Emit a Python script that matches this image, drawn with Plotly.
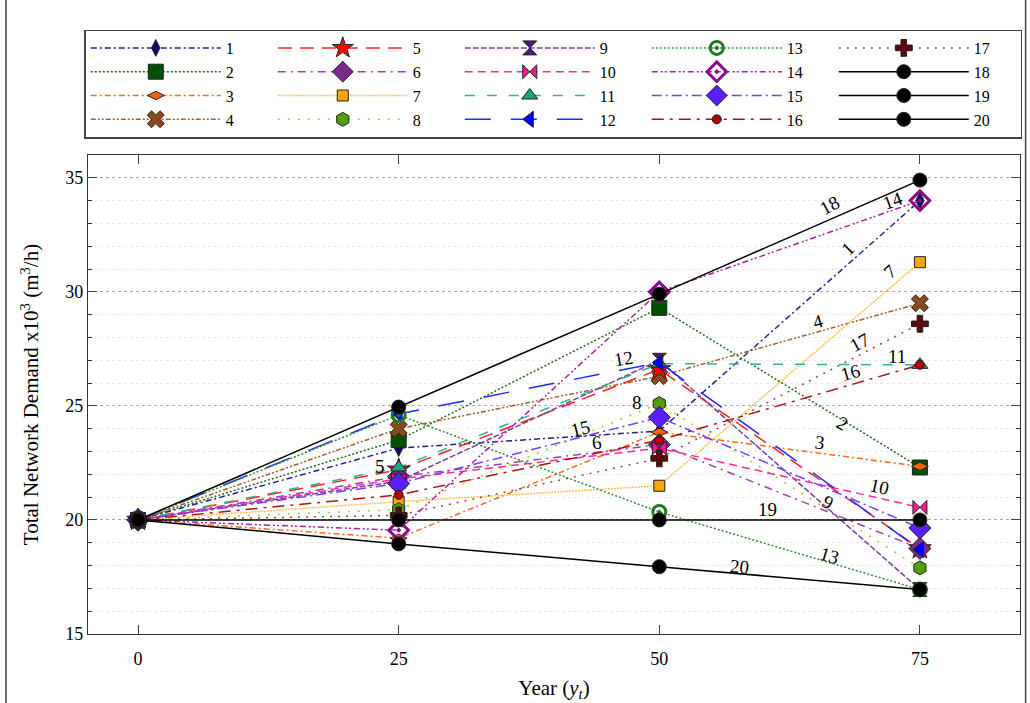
import plotly.graph_objects as go

# ---- data ----
years = [0, 25, 50, 75]
s1 = [20.0, 23.15, 23.9, 34.0]
s2 = [20.0, 23.5, 29.3, 22.3]
s3 = [20.0, 19.2, 23.85, 22.35]
s4 = [20.0, 24.0, 26.3, 29.5]
s5 = [20.0, 22.2, 26.6, 18.75]
s6 = [20.0, 21.9, 23.3, 18.75]
s7 = [20.0, 20.8, 21.5, 31.3]
s8 = [20.0, 20.45, 25.1, 17.9]
s9 = [20.0, 21.7, 27.0, 16.95]
s10 = [20.0, 21.8, 23.15, 20.55]
s11 = [20.0, 22.3, 26.85, 26.8]
s12 = [20.0, 24.65, 26.9, 18.7]
s13 = [20.0, 24.6, 20.35, 16.95]
s14 = [20.0, 19.55, 30.0, 34.0]
s15 = [20.0, 21.6, 24.5, 19.65]
s16 = [20.0, 21.1, 23.5, 26.8]
s17 = [20.0, 20.2, 22.7, 28.6]
s18 = [20.0, 24.95, 29.9, 34.9]
s19 = [20.0, 20.0, 20.0, 20.0]
s20 = [20.0, 18.95, 17.95, 16.95]
series_names = [str(i) for i in range(1, 21)]
series_values = [s1, s2, s3, s4, s5, s6, s7, s8, s9, s10,
                 s11, s12, s13, s14, s15, s16, s17, s18, s19, s20]

# ---- styles ----
line_colors = ["#23238f", "#1e6b1e", "#ff6a1a", "#a0622d", "#ff2020",
               "#9b40b0", "#ffc04d", "#9acd32", "#7b3fa0", "#ff2a9a",
               "#2bb593", "#1e2bff", "#2f8f2f", "#b0209f", "#7a3cff",
               "#b01010", "#8b4a4a", "#000000", "#000000", "#000000"]
dashes = ["6px,3px,2px,3px", "2px,2px", "6px,3px,2px,3px", "5px,2px,2px,2px,2px,2px",
          "14px,8px", "8px,5px,2px,5px", "2px,1px", "2px,8px", "6px,2px", "8px,5px",
          "10px,12px", "26px,20px", "2px,2px", "6px,3px,2px,2px,2px,3px",
          "10px,4px,2px,4px", "12px,6px,3px,6px", "2px,6px", "solid", "solid", "solid"]
symbols = ["diamond-tall", "square", "diamond-wide", "x", "star", "diamond", "square",
           "hexagon", "hourglass", "bowtie", "triangle-up", "triangle-left",
           "circle-open-dot", "diamond-open-dot", "diamond", "circle", "cross",
           "circle", "circle", "circle"]
marker_colors = ["#0a0a6e", "#005000", "#ff6000", "#8b4a1a", "#ff0000", "#7a2a8a",
                 "#ffa500", "#4ca000", "#4b1a7a", "#ff1493", "#20a080", "#0000ff",
                 "#1e7a1e", "#8b0a8b", "#5a1eff", "#b00000", "#5c0a0a",
                 "#000000", "#000000", "#000000"]
marker_sizes = [12, 15, 12, 15, 17, 17, 11, 14, 14, 14, 14, 14, 13, 15, 17, 9, 14, 14, 14, 14]

SERIF = "Liberation Serif, Times New Roman, serif"

fig = go.Figure()
for i, (name, vals) in enumerate(zip(series_names, series_values)):
    row, col = i % 4, i // 4
    sym = symbols[i]
    is_open = "open" in sym
    fig.add_trace(go.Scatter(
        x=years, y=vals, name=name, mode="lines+markers",
        legendrank=row * 5 + col + 1,
        line=dict(color=line_colors[i], width=1.5, dash=dashes[i]),
        marker=dict(symbol=sym, size=marker_sizes[i], color=marker_colors[i],
                    line=dict(color=marker_colors[i] if is_open else "#222222",
                              width=3 if is_open else 1)),
    ))

# ---- in-plot labels ----
label_text = ["18", "14", "1", "7", "4", "17", "11", "16", "12", "8", "15", "6",
              "5", "2", "3", "10", "19", "9", "13", "20"]
label_x = [66.3, 72.4, 68.1, 72.1, 65.2, 69.2, 72.8, 68.3, 46.6, 47.9, 42.4, 44.0,
           23.2, 67.6, 65.4, 71.1, 60.4, 66.2, 66.3, 57.7]
label_y = [33.8, 34.0, 31.9, 30.9, 28.7, 27.8, 27.15, 26.45, 27.1, 25.13, 24.0, 23.4,
           22.35, 24.25, 23.4, 21.45, 20.45, 20.75, 18.45, 17.98]
label_angle = [-28, -20, -45, -42, -16, -28, 0, -16, -10, 0, -14, -7,
               0, 31, 7, 13, 0, 30, 17, 5]
for t, lx, ly, a in zip(label_text, label_x, label_y, label_angle):
    fig.add_annotation(x=lx, y=ly, text=t, showarrow=False, textangle=a,
                       font=dict(family=SERIF, size=19, color="black"))

# outer frame
fig.add_shape(type="rect", xref="paper", yref="paper", x0=-0.088, x1=1.006,
              y0=-0.2, y1=1.33, line=dict(color="#444", width=1.5), fillcolor="rgba(0,0,0,0)")

fig.update_layout(
    width=1030, height=703,
    margin=dict(l=88, r=10, t=155, b=69, autoexpand=False),
    paper_bgcolor="white", plot_bgcolor="white",
    font=dict(family=SERIF, size=18, color="black"),
    showlegend=True,
    legend=dict(orientation="h", x=-0.004, xanchor="left", y=1.262, yanchor="top",
                entrywidth=42, entrywidthmode="pixels", itemwidth=130,
                bordercolor="#444", borderwidth=1.5, bgcolor="white",
                font=dict(family=SERIF, size=16), traceorder="normal",
                itemclick=False),
    xaxis=dict(range=[-4.8, 84.6], tickvals=years, ticks="inside", ticklen=9,
               showline=True, linecolor="#333", linewidth=1.2, mirror="ticks",
               showgrid=False, zeroline=False, ticklabelstandoff=8,
               tickfont=dict(family=SERIF, size=18),
               title=dict(text="Year (<i>y<sub>t</sub></i>)", standoff=12,
                          font=dict(family=SERIF, size=21))),
    yaxis=dict(range=[15, 36], tickvals=[15, 20, 25, 30, 35], ticks="inside", ticklen=9,
               showline=True, linecolor="#333", linewidth=1.2, mirror="ticks",
               showgrid=True, gridcolor="#aaaaaa", griddash="dot", gridwidth=1,
               zeroline=False,
               minor=dict(dtick=1, showgrid=True, gridcolor="#e8e8e8", ticks="inside",
                          ticklen=4, tickcolor="#333"),
               tickfont=dict(family=SERIF, size=18),
               title=dict(text="Total Network Demand x10<sup>3</sup> (m<sup>3</sup>/h)",
                          standoff=20, font=dict(family=SERIF, size=21))),
)

fig.write_html("out.html", config={"displayModeBar": False},
               post_script="document.body.style.margin='0';")
